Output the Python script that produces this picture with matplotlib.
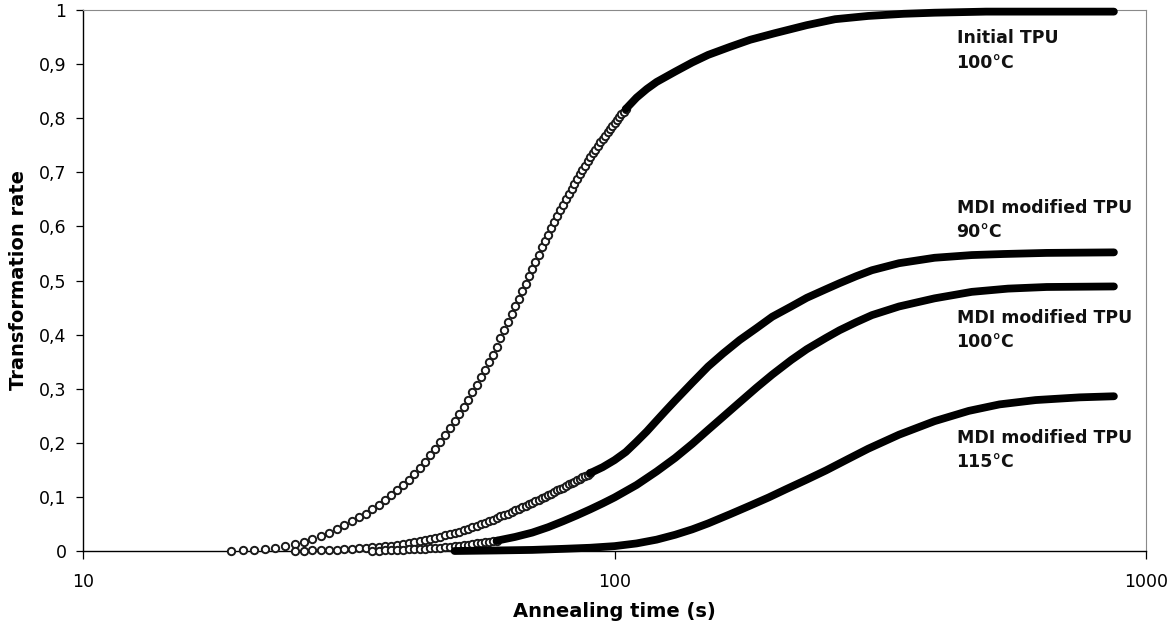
import matplotlib
matplotlib.use('Agg')
import matplotlib.pyplot as plt
from matplotlib.ticker import FixedLocator, FuncFormatter, NullLocator

# Initial TPU, 100°C - open circles every 1 s up to 105 s, then a solid band
initial_t_dots = list(range(19, 106))
initial_v_dots = [0.000, 0.001, 0.002, 0.004, 0.006, 0.009, 0.013, 0.017, 0.022, 0.028,
                  0.034, 0.041, 0.048, 0.055, 0.062, 0.069, 0.077, 0.085, 0.094, 0.103,
                  0.112, 0.122, 0.132, 0.143, 0.154, 0.165, 0.177, 0.189, 0.201, 0.214,
                  0.227, 0.240, 0.253, 0.266, 0.280, 0.293, 0.307, 0.321, 0.335, 0.349,
                  0.363, 0.378, 0.393, 0.408, 0.423, 0.438, 0.452, 0.466, 0.480, 0.494,
                  0.508, 0.522, 0.535, 0.548, 0.561, 0.573, 0.585, 0.597, 0.608, 0.619,
                  0.630, 0.640, 0.650, 0.660, 0.669, 0.678, 0.687, 0.696, 0.704, 0.712,
                  0.720, 0.728, 0.735, 0.742, 0.749, 0.756, 0.762, 0.768, 0.774, 0.780,
                  0.786, 0.792, 0.797, 0.802, 0.807, 0.812, 0.817]
initial_t_band = [105, 110, 115, 120, 130, 140, 150, 165, 180, 200, 230, 260, 300, 350, 400,
                  500, 600, 700, 870]
initial_v_band = [0.817, 0.838, 0.854, 0.867, 0.886, 0.903, 0.917, 0.932, 0.945, 0.957,
                  0.972, 0.983, 0.989, 0.993, 0.995, 0.997, 0.997, 0.997, 0.997]

# MDI modified TPU, 90°C
mdi90_t_dots = list(range(25, 91))
mdi90_v_dots = [0.000, 0.000, 0.001, 0.001, 0.002, 0.002, 0.003, 0.004, 0.005, 0.006,
                0.007, 0.008, 0.009, 0.010, 0.012, 0.013, 0.015, 0.017, 0.019, 0.020,
                0.022, 0.024, 0.026, 0.029, 0.031, 0.033, 0.036, 0.038, 0.041, 0.044,
                0.046, 0.049, 0.052, 0.055, 0.058, 0.061, 0.064, 0.066, 0.069, 0.072,
                0.075, 0.078, 0.081, 0.084, 0.087, 0.089, 0.092, 0.095, 0.098, 0.100,
                0.103, 0.106, 0.109, 0.112, 0.114, 0.117, 0.120, 0.123, 0.126, 0.128,
                0.131, 0.134, 0.136, 0.139, 0.141, 0.144]
mdi90_t_band = [90, 95, 100, 105, 110, 115, 120, 125, 130, 140, 150, 160, 172, 185, 198,
                215, 230, 250, 265, 285, 305, 343, 400, 470, 540, 650, 870]
mdi90_v_band = [0.144, 0.155, 0.168, 0.183, 0.202, 0.221, 0.241, 0.260, 0.278, 0.311,
                0.341, 0.365, 0.390, 0.412, 0.433, 0.452, 0.468, 0.484, 0.495, 0.508,
                0.519, 0.532, 0.542, 0.547, 0.549, 0.551, 0.552]

# MDI modified TPU, 100°C
mdi100_t_dots = list(range(35, 61))
mdi100_v_dots = [0.000, 0.000, 0.001, 0.001, 0.002, 0.002, 0.003, 0.003, 0.004, 0.004,
                 0.005, 0.006, 0.006, 0.007, 0.008, 0.009, 0.010, 0.011, 0.012, 0.013,
                 0.014, 0.015, 0.016, 0.017, 0.018, 0.019]
mdi100_t_band = [60, 65, 70, 75, 80, 85, 90, 95, 100, 110, 120, 130, 140, 150, 160, 172,
                 185, 198, 215, 230, 250, 265, 285, 305, 343, 400, 470, 550, 650, 870]
mdi100_v_band = [0.019, 0.026, 0.034, 0.044, 0.055, 0.066, 0.077, 0.088, 0.099, 0.122,
                 0.147, 0.172, 0.198, 0.224, 0.248, 0.275, 0.302, 0.326, 0.353, 0.373,
                 0.394, 0.408, 0.423, 0.436, 0.452, 0.467, 0.479, 0.485, 0.488, 0.489]

# MDI modified TPU, 115°C (dense from the start)
mdi115_t_band = [50, 60, 70, 80, 90, 100, 110, 120, 130, 140, 150, 165, 180, 195, 210, 230,
                 250, 275, 300, 343, 400, 464, 530, 620, 750, 870]
mdi115_v_band = [0.000, 0.001, 0.002, 0.004, 0.006, 0.009, 0.014, 0.021, 0.030, 0.040,
                 0.051, 0.068, 0.084, 0.099, 0.114, 0.132, 0.149, 0.170, 0.189, 0.215,
                 0.240, 0.259, 0.271, 0.279, 0.284, 0.286]

labels = ['Initial TPU\n100°C', 'MDI modified TPU\n90°C',
          'MDI modified TPU\n100°C', 'MDI modified TPU\n115°C']
label_y = [0.925, 0.612, 0.408, 0.187]
y_ticks = [0, 0.1, 0.2, 0.3, 0.4, 0.5, 0.6, 0.7, 0.8, 0.9, 1]
x_ticks = [10, 100, 1000]

fig = plt.figure(figsize=(11.68, 6.25), dpi=100)
ax = fig.add_axes([0.0711, 0.1184, 0.9101, 0.8656])

dots = [(initial_t_dots, initial_v_dots), (mdi90_t_dots, mdi90_v_dots),
        (mdi100_t_dots, mdi100_v_dots)]
bands = [(initial_t_band, initial_v_band), (mdi90_t_band, mdi90_v_band),
         (mdi100_t_band, mdi100_v_band), (mdi115_t_band, mdi115_v_band)]

for t, v in dots:
    ax.plot(t, v, linestyle='none', marker='o', ms=5.3, mfc='white', mec='#1a1a1a',
            mew=1.4, clip_on=False, zorder=3)
for t, v in bands:
    ax.plot(t, v, color='black', lw=5.6, solid_capstyle='round', clip_on=False, zorder=4)

for txt, y in zip(labels, label_y):
    ax.text(440, y, txt, fontsize=12.5, fontweight='bold', va='center', ha='left',
            linespacing=1.45, color='#111111')

ax.set_xscale('log')
ax.set_xlim(10, 1000)
ax.set_ylim(0, 1)
ax.xaxis.set_major_locator(FixedLocator(x_ticks))
ax.xaxis.set_minor_locator(NullLocator())
ax.xaxis.set_major_formatter(FuncFormatter(lambda x, p: '%d' % x))
ax.yaxis.set_major_locator(FixedLocator(y_ticks))
ax.yaxis.set_major_formatter(FuncFormatter(lambda y, p: ('%g' % y).replace('.', ',')))
ax.tick_params(axis='y', direction='out', length=5, width=0.9, pad=7, labelsize=12.5)
ax.tick_params(axis='x', direction='out', length=6, width=0.9, pad=10, labelsize=12.5)

for s in ['left', 'bottom']:
    ax.spines[s].set_color('black')
    ax.spines[s].set_linewidth(1.0)
for s in ['top', 'right']:
    ax.spines[s].set_color('#8a8a8a')
    ax.spines[s].set_linewidth(0.8)

ax.set_xlabel('Annealing time (s)', fontsize=14, fontweight='bold', labelpad=8)
ax.set_ylabel('Transformation rate', fontsize=14, fontweight='bold', labelpad=8)

fig.savefig('out.png', dpi=100)
